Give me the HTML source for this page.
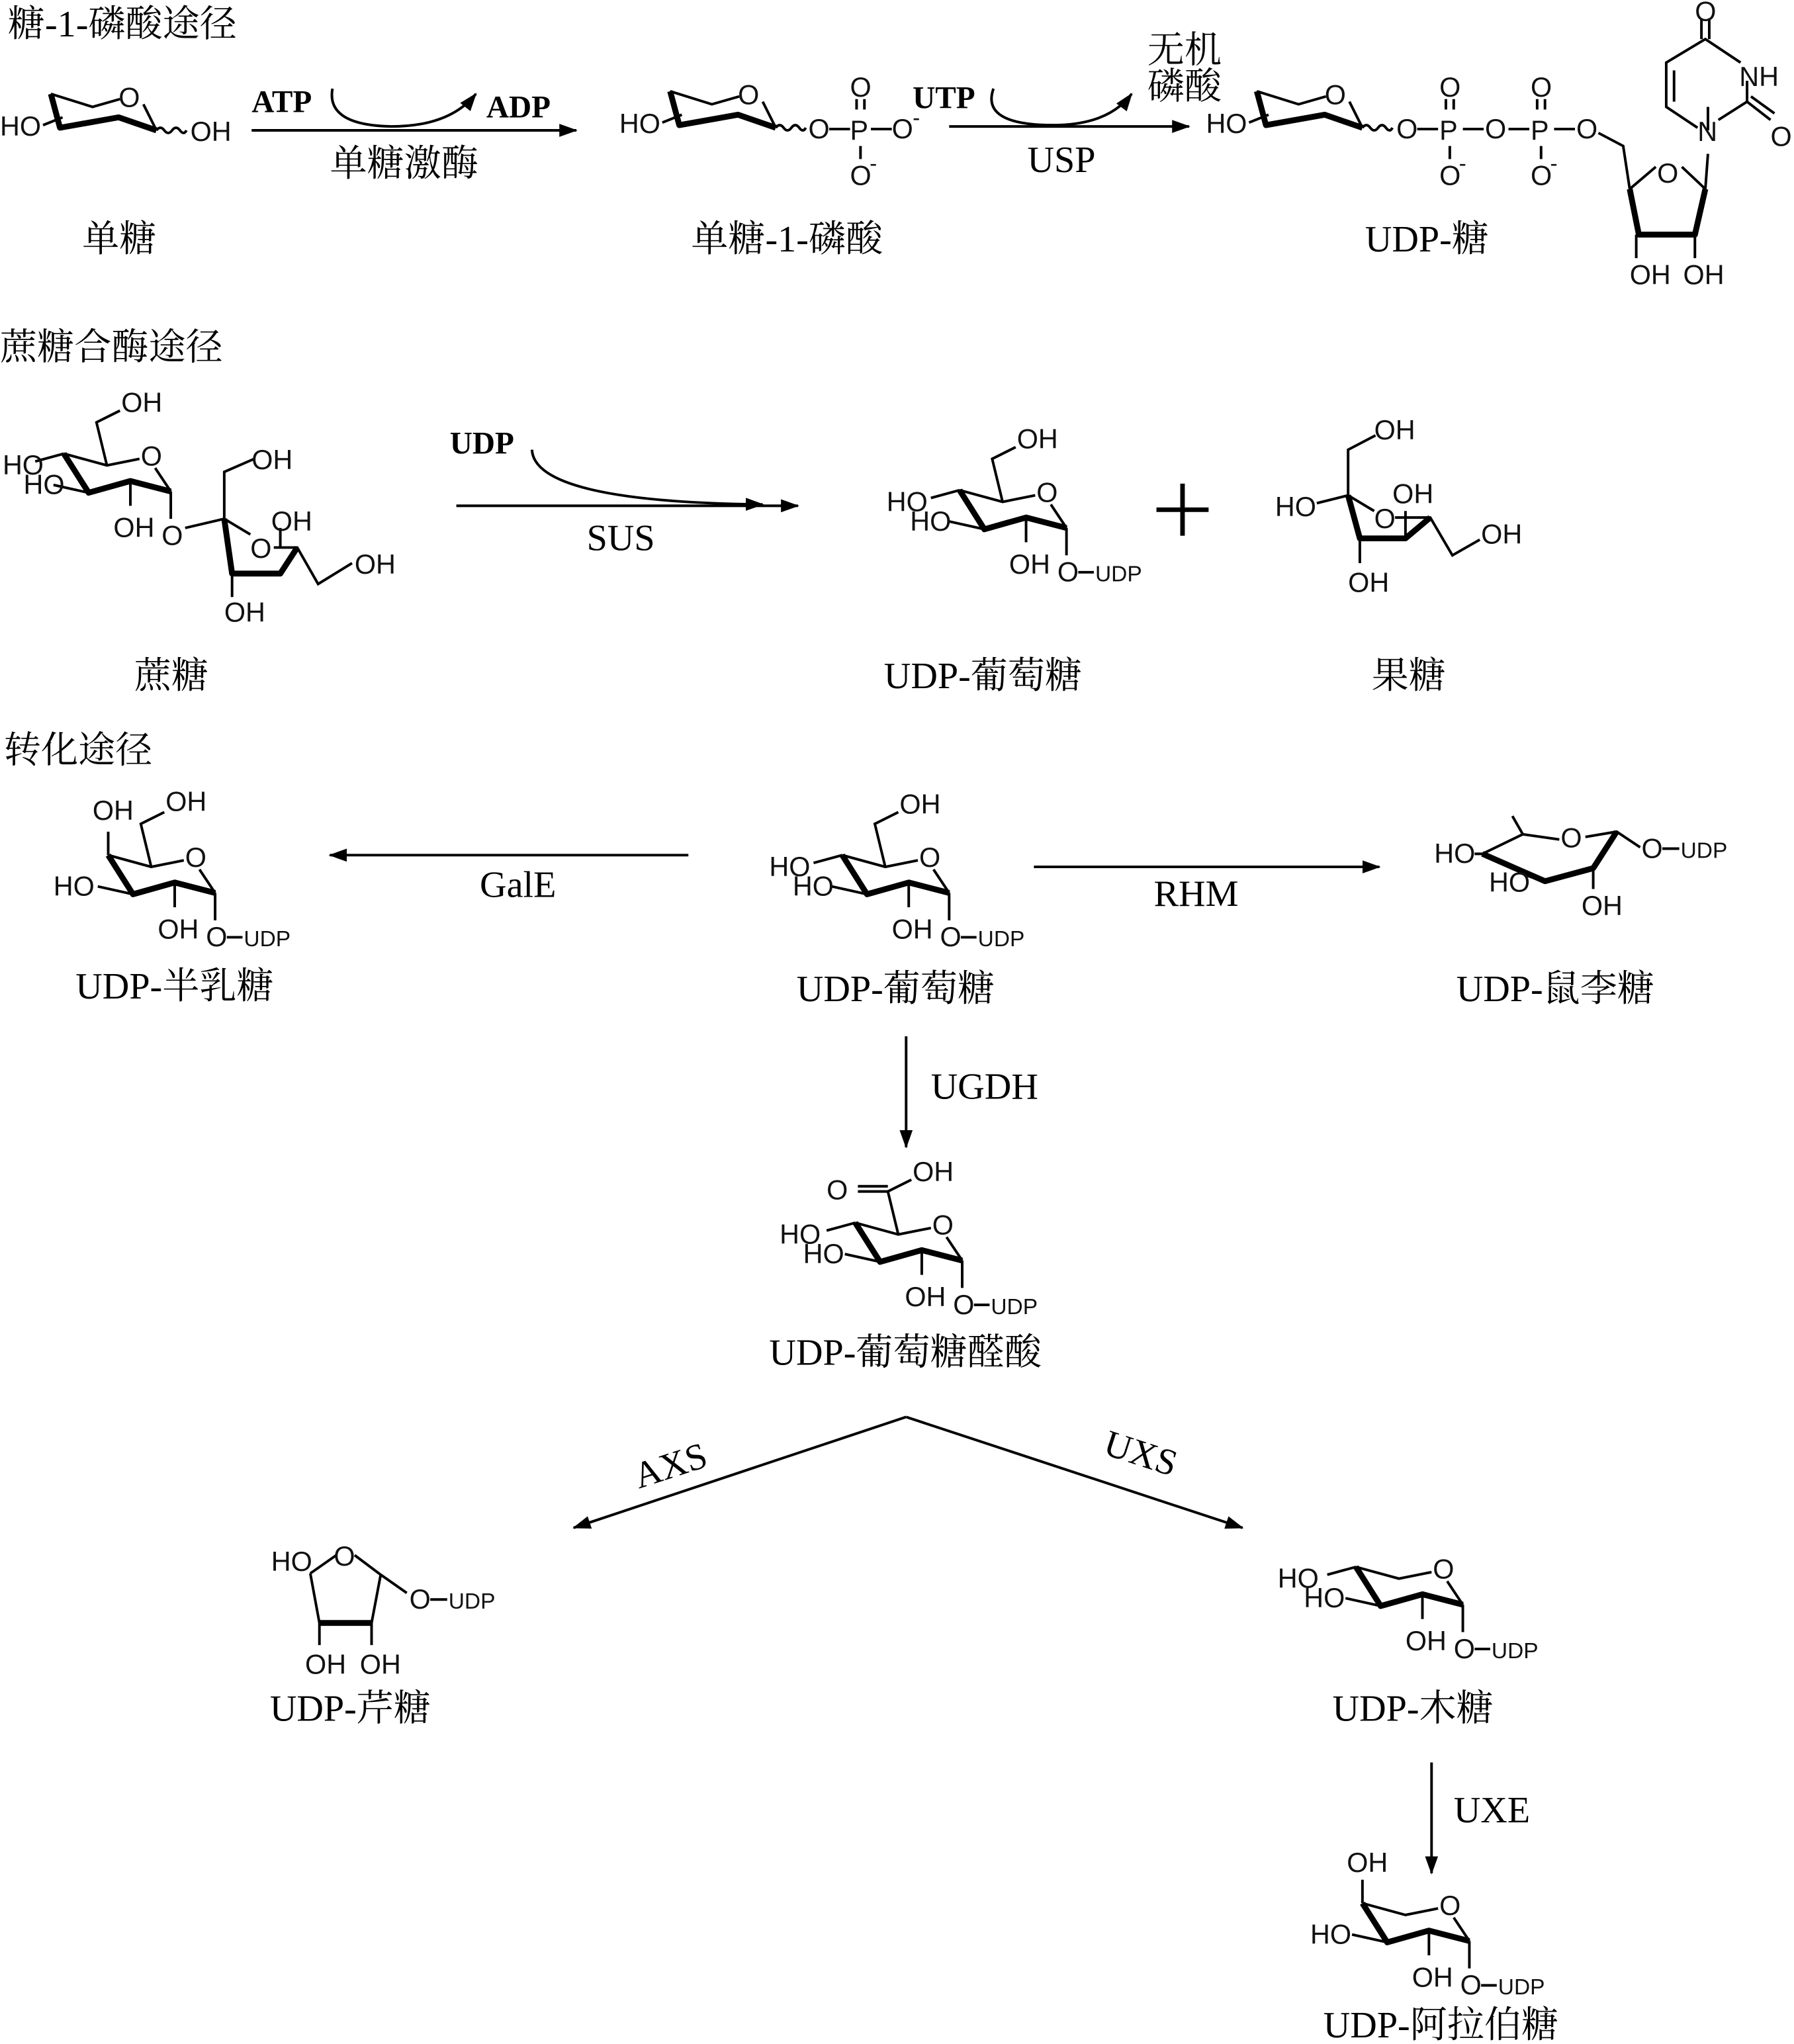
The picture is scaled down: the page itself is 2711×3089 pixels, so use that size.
<!DOCTYPE html>
<html><head><meta charset="utf-8"><style>
html,body{margin:0;padding:0;background:#fff;}
svg{display:block;}
.c{font-family:"Liberation Sans",sans-serif;font-size:21px;fill:#111;}
.s{font-size:17px;}
.l{font-family:"Liberation Serif","Noto Serif CJK SC",serif;font-size:28.5px;fill:#000;}
.b{font-family:"Liberation Serif",serif;font-size:24px;font-weight:bold;fill:#000;}
.t{stroke:#000;stroke-width:2;fill:none;}
.k{stroke:#000;stroke-width:4.5;fill:none;stroke-linejoin:round;}
</style></head><body>
<svg width="2711" height="3089" viewBox="0 0 1376 1568" preserveAspectRatio="none" xmlns="http://www.w3.org/2000/svg">
<defs>
<marker id="ah" markerWidth="14" markerHeight="10" refX="13" refY="5" orient="auto" markerUnits="userSpaceOnUse"><path d="M0,0 L14,5 L0,10 Z" fill="#000"/></marker>
<g id="mono">
<path class="t" d="M33,96 L48,90 M39,72 L71,82 L92,76 M110,80 L120,100"/>
<path class="k" d="M39,72 L46,98 L91,90 L120,100"/>
<path class="t" d="M120,100 q3,-4 6,0 t6,0 t6,0 t5,0"/>
<text class="c" x="0" y="104">HO</text>
<text class="c" x="91" y="82">O</text>
</g>
<g id="ring">
<path class="t" d="M0,0 L33,9 L58,4 M70,11 L82,29 M51,21 L51,40 M82,29 L82,50"/>
<path class="k" d="M0,0 L19,30 L51,21 L82,29"/>
<text class="c" x="59" y="9">O</text>
<text class="c" x="38" y="64">OH</text>
<text class="c" x="75" y="70">O</text>
<path class="t" d="M91,63 L103,63"/>
<text class="c s" x="104" y="70">UDP</text>
</g>
</defs>

<text class="l" x="6" y="28">糖-1-磷酸途径</text>
<use href="#mono" x="0" y="0"/>
<text class="c" x="146" y="108">OH</text>
<path class="t" d="M193,100 L442,100" marker-end="url(#ah)"/>
<text class="b" x="193" y="86">ATP</text>
<text class="b" x="373" y="90">ADP</text>
<path class="t" d="M255,68 Q250,96 300,97 Q345,97 365,72" marker-end="url(#ah)"/>
<text class="l" x="253" y="135">单糖激酶</text>
<text class="l" x="63" y="193">单糖</text>

<use href="#mono" x="475" y="-2"/>
<path class="t" d="M636,99 L652,99 M668,99 L684,99 M657,84 L657,76 M663,84 L663,76 M660,112 L660,122"/>
<text class="c" x="620" y="106">O</text>
<text class="c" x="652" y="107">P</text>
<text class="c" x="684" y="106">O</text><text class="c s" x="700" y="96">-</text>
<text class="c" x="652" y="74">O</text>
<text class="c" x="652" y="142">O</text><text class="c s" x="667" y="131">-</text>
<path class="t" d="M728,97 L912,97" marker-end="url(#ah)"/>
<text class="b" x="700" y="83">UTP</text>
<path class="t" d="M762,68 Q752,96 808,96 Q850,96 868,72" marker-end="url(#ah)"/>
<text class="l" x="880" y="48">无机</text>
<text class="l" x="880" y="76">磷酸</text>
<text class="l" x="788" y="132">USP</text>
<text class="l" x="530" y="193">单糖-1-磷酸</text>

<use href="#mono" x="925" y="-2"/>
<path class="t" d="M1087,99 L1103,99 M1122,99 L1138,99 M1157,99 L1173,99 M1192,99 L1208,99 M1109,84 L1109,76 M1115,84 L1115,76 M1179,84 L1179,76 M1185,84 L1185,76 M1112,112 L1112,122 M1182,112 L1182,122"/>
<text class="c" x="1071" y="106">O</text>
<text class="c" x="1104" y="107">P</text>
<text class="c" x="1139" y="106">O</text>
<text class="c" x="1174" y="107">P</text>
<text class="c" x="1209" y="106">O</text>
<text class="c" x="1104" y="74">O</text>
<text class="c" x="1174" y="74">O</text>
<text class="c" x="1104" y="142">O</text><text class="c s" x="1119" y="131">-</text>
<text class="c" x="1174" y="142">O</text><text class="c s" x="1189" y="131">-</text>
<path class="t" d="M1226,102 L1245,112 L1250,145 L1270,128 M1290,128 L1308,145 L1310,118 M1255,180 L1255,198 M1300,180 L1300,198"/>
<path class="k" d="M1250,145 L1257,180 L1300,180 L1308,145"/>
<text class="c" x="1271" y="140">O</text>
<text class="c" x="1250" y="218">OH</text>
<text class="c" x="1291" y="218">OH</text>
<path class="t" d="M1310,100 L1310,82 M1318,92 L1340,78 L1340,62 M1335,48 L1308,30 L1278,48 L1278,82 L1302,98 M1284,54 L1284,78 M1305,30 L1305,14 M1311,30 L1311,14 M1340,78 L1358,92 M1343,74 L1361,87"/>
<text class="c" x="1302" y="108">N</text>
<text class="c" x="1334" y="66">NH</text>
<text class="c" x="1300" y="16">O</text>
<text class="c" x="1358" y="112">O</text>
<text class="l" x="1047" y="193">UDP-糖</text>

<text class="l" x="0" y="276">蔗糖合酶途径</text>
<g transform="translate(49,348)">
<path class="t" d="M0,0 L33,9 L58,4 M70,11 L82,29 M51,21 L51,40 M82,29 L82,50 M33,9 L25,-24 L43,-33 M-22,6 L0,0 M-8,24 L19,30"/>
<path class="k" d="M0,0 L19,30 L51,21 L82,29"/>
<text class="c" x="59" y="9">O</text>
<text class="c" x="44" y="-32">OH</text>
<text class="c" x="-47" y="16">HO</text>
<text class="c" x="-31" y="31">HO</text>
<text class="c" x="38" y="64">OH</text>
<text class="c" x="75" y="70">O</text>
</g>
<path class="t" d="M142,405 L172,398 L172,362 L195,352 M172,398 L192,410 M210,420 L228,420 L244,448 L270,432 M215,420 L215,405"/>
<path class="k" d="M172,398 L178,440 L215,440 L228,420"/>
<path class="t" d="M178,440 L178,458"/>
<text class="c" x="193" y="360">OH</text>
<text class="c" x="192" y="428">O</text>
<text class="c" x="208" y="407">OH</text>
<text class="c" x="272" y="440">OH</text>
<text class="c" x="172" y="477">OH</text>
<text class="l" x="103" y="528">蔗糖</text>

<path class="t" d="M350,388 L612,388" marker-end="url(#ah)"/>
<text class="b" x="345" y="348">UDP</text>
<path class="t" d="M408,345 Q410,385 585,387" marker-end="url(#ah)"/>
<text class="l" x="450" y="422">SUS</text>

<g transform="translate(736,376)">
<use href="#ring"/>
<path class="t" d="M33,9 L25,-24 L43,-33 M-22,6 L0,0 M-8,24 L19,30"/>
<text class="c" x="44" y="-32">OH</text>
<text class="c" x="-56" y="16">HO</text>
<text class="c" x="-38" y="31">HO</text>
</g>
<path d="M887,391 L927,391 M907,371 L907,411" stroke="#000" stroke-width="3.5"/>
<text class="l" x="678" y="528">UDP-葡萄糖</text>

<path class="t" d="M1010,386 L1034,380 L1034,345 L1055,334 M1034,380 L1054,392 M1070,397 L1097,397 L1114,426 L1135,414 M1078,413 L1078,392"/>
<path class="k" d="M1034,380 L1043,413 L1078,413 L1097,397"/>
<path class="t" d="M1043,413 L1043,432"/>
<text class="c" x="978" y="396">HO</text>
<text class="c" x="1054" y="337">OH</text>
<text class="c" x="1054" y="405">O</text>
<text class="c" x="1068" y="386">OH</text>
<text class="c" x="1136" y="417">OH</text>
<text class="c" x="1034" y="454">OH</text>
<text class="l" x="1052" y="528">果糖</text>

<text class="l" x="3" y="585">转化途径</text>
<g transform="translate(83,656)">
<use href="#ring"/>
<path class="t" d="M33,9 L25,-24 L43,-33 M0,0 L0,-18 M-8,24 L19,30"/>
<text class="c" x="44" y="-34">OH</text>
<text class="c" x="-12" y="-27">OH</text>
<text class="c" x="-42" y="31">HO</text>
</g>
<text class="l" x="58" y="766">UDP-半乳糖</text>
<path class="t" d="M528,656 L253,656" marker-end="url(#ah)"/>
<text class="l" x="368" y="688">GalE</text>

<g transform="translate(646,656)">
<use href="#ring"/>
<path class="t" d="M33,9 L25,-24 L43,-33 M-22,6 L0,0 M-8,24 L19,30"/>
<text class="c" x="44" y="-32">OH</text>
<text class="c" x="-56" y="16">HO</text>
<text class="c" x="-38" y="31">HO</text>
</g>
<text class="l" x="611" y="768">UDP-葡萄糖</text>
<path class="t" d="M793,665 L1058,665" marker-end="url(#ah)"/>
<text class="l" x="885" y="695">RHM</text>

<path class="t" d="M1131,655 L1137,655 L1168,640 L1160,626 M1168,640 L1196,644 M1216,642 L1240,638 L1258,650 M1222,666 L1222,682 M1185,676 L1172,672"/>
<path class="k" d="M1137,655 L1185,676 L1222,666 L1240,638"/>
<text class="c" x="1100" y="662">HO</text>
<text class="c" x="1142" y="684">HO</text>
<text class="c" x="1197" y="650">O</text>
<text class="c" x="1259" y="658">O</text>
<path class="t" d="M1275,651 L1288,651"/>
<text class="c s" x="1289" y="658">UDP</text>
<text class="c" x="1213" y="702">OH</text>
<text class="l" x="1117" y="768">UDP-鼠李糖</text>

<path class="t" d="M695,795 L695,880" marker-end="url(#ah)"/>
<text class="l" x="714" y="843">UGDH</text>

<g transform="translate(656,938)">
<use href="#ring"/>
<path class="t" d="M-22,6 L0,0 M-8,24 L19,30 M33,9 L25,-24 L43,-33 M25,-24 L2,-24 M25,-28 L2,-28"/>
<text class="c" x="44" y="-32">OH</text>
<text class="c" x="-22" y="-18">O</text>
<text class="c" x="-58" y="16">HO</text>
<text class="c" x="-40" y="31">HO</text>
</g>
<text class="l" x="590" y="1047">UDP-葡萄糖醛酸</text>

<path class="t" d="M695,1087 L440,1172" marker-end="url(#ah)"/>
<path class="t" d="M695,1087 L953,1172" marker-end="url(#ah)"/>
<text class="l" transform="translate(490,1142) rotate(-18)">AXS</text>
<text class="l" transform="translate(845,1115) rotate(18)">UXS</text>

<path class="t" d="M238,1207 L258,1193 M272,1193 L292,1208 M238,1207 L245,1245 M285,1245 L292,1208 M292,1208 L312,1222 M245,1245 L245,1262 M285,1245 L285,1262"/>
<path class="k" d="M245,1245 L285,1245"/>
<text class="c" x="208" y="1205">HO</text>
<text class="c" x="256" y="1201">O</text>
<text class="c" x="314" y="1234">O</text>
<path class="t" d="M330,1227 L343,1227"/>
<text class="c s" x="344" y="1234">UDP</text>
<text class="c" x="234" y="1284">OH</text>
<text class="c" x="276" y="1284">OH</text>
<text class="l" x="207" y="1320">UDP-芹糖</text>

<g transform="translate(1040,1202)">
<use href="#ring"/>
<path class="t" d="M-22,6 L0,0 M-8,24 L19,30"/>
<text class="c" x="-60" y="16">HO</text>
<text class="c" x="-40" y="31">HO</text>
</g>
<text class="l" x="1022" y="1320">UDP-木糖</text>
<path class="t" d="M1098,1352 L1098,1437" marker-end="url(#ah)"/>
<text class="l" x="1115" y="1398">UXE</text>

<g transform="translate(1045,1460)">
<use href="#ring"/>
<path class="t" d="M0,0 L0,-18 M-8,24 L19,30"/>
<text class="c" x="-12" y="-24">OH</text>
<text class="c" x="-40" y="31">HO</text>
</g>
<text class="l" x="1015" y="1563">UDP-阿拉伯糖</text>
</svg>
</body></html>
